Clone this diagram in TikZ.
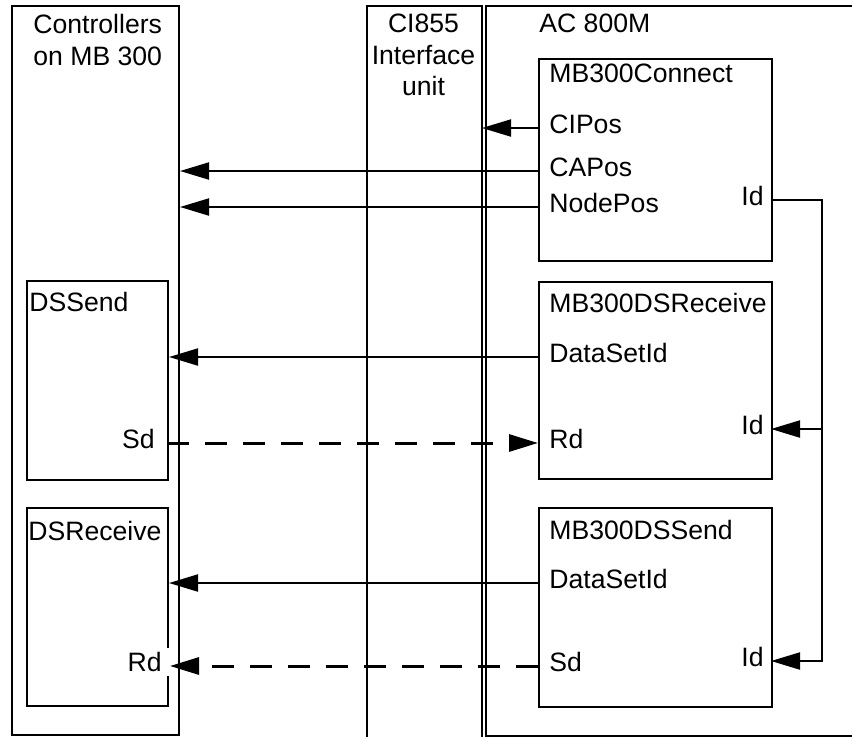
\documentclass[tikz,border=0pt]{standalone}
\usepackage{fontspec}
\setmainfont{Liberation Sans}
\usepackage{tikz}
\usetikzlibrary{arrows.meta}

\tikzset{
    blk/.style={draw, line width=1pt, inner sep=0pt, anchor=north west},
    port/.style={inner xsep=5.5pt, inner ysep=0pt},
    sig/.style={line width=1pt, -{Triangle[length=14.5pt,width=8.5pt]}},
    dsig/.style={sig, line width=1.5pt, dash pattern=on 11pt off 8pt},
}

\begin{document}
\begin{tikzpicture}[x=0.5pt, y=-0.5pt, font=\fontsize{13.3}{15.75}\selectfont]
    \useasboundingbox (0,0) rectangle (852,736);

    % outer frames
    \node[blk, minimum width=83.5pt, minimum height=364.5pt] (ctrl) at (11,5) {};
    \node[blk, draw=none, minimum width=56.5pt, minimum height=365pt] (ci) at (367,6) {};
    \node[blk, minimum width=185pt, minimum height=365pt] (ac) at (485,5) {};
    \draw[line width=1pt] (ci.south west) |- (ci.north east) -- (ci.south east);

    \node[anchor=north west, align=left, inner sep=0pt] (ctrlT) at (33,14) {Controllers\\on MB 300};
    \node[anchor=north, align=center, inner sep=0pt] (ciT) at (423.5,14) {CI855\\Interface\\unit};
    \node[anchor=base west, inner sep=0pt] (acT) at (539,32) {AC 800M};

    % function blocks
    \node[blk, minimum width=116.5pt, minimum height=101pt] (conn) at (538,58) {};
    \node[blk, minimum width=116.5pt, minimum height=98.5pt] (dsr) at (538,281) {};
    \node[blk, minimum width=116.5pt, minimum height=99.5pt] (dss) at (538,507) {};
    \node[blk, minimum width=70.5pt, minimum height=99.5pt] (dssend) at (26,280) {};
    \node[blk, minimum width=70.5pt, minimum height=99pt] (dsrecv) at (26,507) {};

    \node[anchor=base west, inner sep=0pt] (connT) at (549,82) {MB300Connect};
    \node[anchor=base west, inner sep=0pt] (dsrT) at (549,312) {MB300DSReceive};
    \node[anchor=base west, inner sep=0pt] (dssT) at (549,539) {MB300DSSend};
    \node[anchor=base west, inner sep=0pt] (dssendT) at (29,311) {DSSend};
    \node[anchor=base west, inner sep=0pt] (dsrecvT) at (28,540) {DSReceive};

    % ports
    \node[port, anchor=mid west] (cipos) at (538,128) {CIPos};
    \node[port, anchor=mid west] (capos) at (538,171) {CAPos};
    \node[port, anchor=mid west] (nodepos) at (538,207) {NodePos};
    \node[port, anchor=mid east, inner xsep=3.5pt] (idc) at (771,200) {Id};

    \node[port, anchor=mid west] (dsidr) at (538,357) {DataSetId};
    \node[port, anchor=mid west] (rdr) at (538,443) {Rd};
    \node[port, anchor=mid east, inner xsep=3.5pt] (idr) at (771,429) {Id};

    \node[port, anchor=mid west] (dsids) at (538,583) {DataSetId};
    \node[port, anchor=mid west] (sdr) at (538,666) {Sd};
    \node[port, anchor=mid east, inner xsep=3.5pt] (ids) at (771,661) {Id};

    \node[port, anchor=mid east, inner xsep=6pt] (sdl) at (167,443) {Sd};
    \node[port, anchor=mid east, inner xsep=4pt, inner ysep=2pt, fill=white] (rdl) at (170,666) {Rd};

    \coordinate (bus) at (822,0);

    % signals
    \draw[sig] (cipos.mid west) -- (ci.east |- cipos.mid west);
    \draw[sig] (capos.mid west) -- (ctrl.east |- capos.mid west);
    \draw[sig] (nodepos.mid west) -- (ctrl.east |- nodepos.mid west);

    \draw[sig] (dsidr.mid west) -- (dssend.east |- dsidr.mid west);
    \draw[dsig] (sdl.mid east) -- (rdr.mid west);

    \draw[sig] (dsids.mid west) -- (dsrecv.east |- dsids.mid west);
    \draw[dsig] (sdr.mid west) -- (rdl.mid east);

    \draw[sig] (idc.mid east) -| (bus |- ids.mid east) -- (ids.mid east);
    \draw[sig] (bus |- idr.mid east) -- (idr.mid east);

\end{tikzpicture}
\end{document}
